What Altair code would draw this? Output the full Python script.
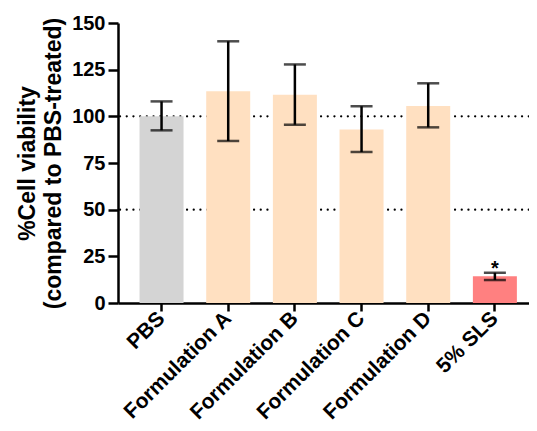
import altair as alt
import pandas as pd

groups = ["PBS", "Formulation A", "Formulation B", "Formulation C", "Formulation D", "5% SLS"]
means = [100, 113.5, 111.6, 93.0, 105.5, 14.3]
err_lo = [92.5, 86.8, 95.5, 80.9, 94.1, 12.3]
err_hi = [108.0, 140.2, 127.8, 105.4, 117.7, 16.2]
colors = ["#d4d4d4", "#ffe0c1", "#ffe0c1", "#ffe0c1", "#ffe0c1", "#ff8080"]
grid_vals = [50, 100]
star_label = ["", "", "", "", "", "*"]

df = pd.DataFrame({"group": groups, "mean": means, "lo": err_lo, "hi": err_hi,
                   "color": colors, "star": star_label})
grid_df = pd.DataFrame({"g": grid_vals})

FONT = "Liberation Sans"

xscale = alt.Scale(domain=groups, paddingInner=0.34, paddingOuter=0.2525, align=0.64)
yscale = alt.Scale(domain=[0, 150], nice=False)

x_enc = alt.X("group:N", scale=xscale, sort=groups,
              axis=alt.Axis(title=None, labelAngle=-45, labelAlign="right", labelBaseline="middle",
                            labelFont=FONT, labelFontSize=21, labelFontWeight="bold", labelColor="black",
                            domainColor="black", domainWidth=2.5, tickColor="black", tickWidth=2.5,
                            tickSize=8, labelPadding=4, grid=False))

grid = alt.Chart(grid_df).mark_rule(color="black", strokeWidth=2.2, strokeDash=[0.1, 6.6],
                                    strokeCap="round").encode(
    y=alt.Y("g:Q", scale=yscale),
    x=alt.value(2), x2=alt.value(411))

bars = alt.Chart(df).mark_bar().encode(
    x=x_enc,
    y=alt.Y("mean:Q", scale=yscale,
            axis=alt.Axis(title=["%Cell viability", "(compared to PBS-treated)"],
                          values=[0, 25, 50, 75, 100, 125, 150], grid=False,
                          labelFont=FONT, labelFontSize=20, labelFontWeight="bold", labelColor="black",
                          titleFont=FONT, titleFontSize=23, titleFontWeight="bold", titleColor="black",
                          titleLineHeight=26,
                          domainColor="black", domainWidth=2.5, tickColor="black", tickWidth=2.5,
                          tickSize=10, labelPadding=3, titlePadding=6)),
    color=alt.Color("color:N", scale=None))

rules = alt.Chart(df).mark_rule(color="black", strokeWidth=2.5).encode(
    x=alt.X("group:N", scale=xscale, sort=groups), y=alt.Y("lo:Q", scale=yscale), y2="hi:Q")

cap_lo = alt.Chart(df).mark_tick(color="black", thickness=2.5, size=22, orient="horizontal").encode(
    x=alt.X("group:N", scale=xscale, sort=groups), y=alt.Y("lo:Q", scale=yscale))
cap_hi = alt.Chart(df).mark_tick(color="black", thickness=2.5, size=22, orient="horizontal").encode(
    x=alt.X("group:N", scale=xscale, sort=groups), y=alt.Y("hi:Q", scale=yscale))

star = alt.Chart(df).mark_text(font=FONT, fontSize=20, fontWeight="bold", color="black",
                               baseline="alphabetic", dy=2).encode(
    x=alt.X("group:N", scale=xscale, sort=groups), y=alt.Y("hi:Q", scale=yscale), text="star:N")

chart = alt.layer(grid, bars, rules, cap_lo, cap_hi, star).properties(
    width=411, height=280,
    autosize=alt.AutoSizeParams(type="none"),
    padding={"left": 110, "top": 15, "right": 0, "bottom": 120},
    background="white",
).configure_view(stroke=None)

chart.save("out.html", embed_options={"renderer": "svg", "actions": False})
